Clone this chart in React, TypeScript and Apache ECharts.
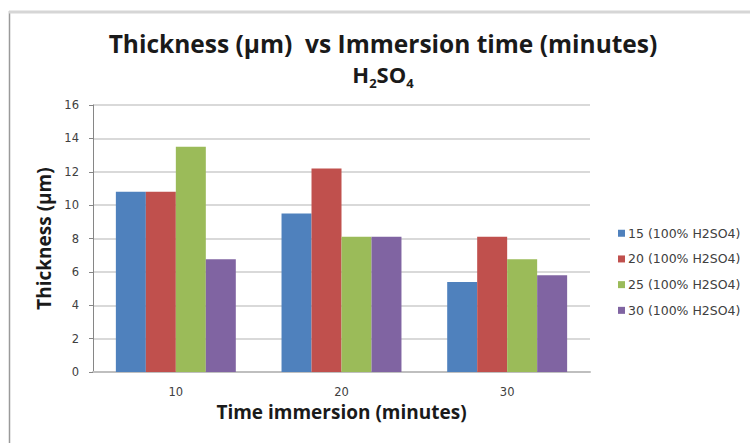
import React, { useEffect, useRef } from "react";
import * as echarts from "echarts";

const categories = ["10", "20", "30"];
const seriesNames = ["15 (100% H2SO4)", "20 (100% H2SO4)", "25 (100% H2SO4)", "30 (100% H2SO4)"];
const s15 = [10.8, 9.5, 5.4];
const s20 = [10.8, 12.2, 8.1];
const s25 = [13.5, 8.1, 6.75];
const s30 = [6.75, 8.1, 5.8];
const colors = ["#4F81BD", "#C0504D", "#9BBB59", "#8064A2"];
const yTicks = { min: 0, max: 16, interval: 2 };

export default function App() {
  const ref = useRef<HTMLDivElement>(null);
  useEffect(() => {
    if (!ref.current) return;
    const chart = echarts.init(ref.current, undefined, { renderer: "svg" });
    const values = [s15, s20, s25, s30];
    chart.setOption({
      animation: false,
      backgroundColor: "#ffffff",
      grid: { left: 93, right: 160, top: 105, bottom: 71, containLabel: false },
      legend: {
        orient: "vertical",
        left: 613,
        top: 221,
        icon: "rect",
        itemWidth: 7,
        itemHeight: 7,
        itemGap: 11.2,
        textStyle: { fontFamily: "DejaVu Sans", fontSize: 12.5, color: "#404040", lineHeight: 14.5, padding: [0, 0, 0, -2] },
        data: seriesNames,
      },
      xAxis: {
        type: "category",
        data: categories,
        name: "Time immersion (minutes)",
        nameLocation: "middle",
        nameGap: 29,
        nameTextStyle: { fontFamily: "Open Sans", fontWeight: "bold", fontSize: 19, color: "#1a1a1a" },
        axisLine: { lineStyle: { color: "#bfbfbf", width: 2 } },
        axisTick: { show: false },
        axisLabel: { fontFamily: "DejaVu Sans", fontSize: 11.5, color: "#404040", margin: 14 },
      },
      yAxis: {
        type: "value",
        min: yTicks.min,
        max: yTicks.max,
        interval: yTicks.interval,
        name: "Thickness (µm)",
        nameLocation: "middle",
        nameGap: 35,
        nameTextStyle: { fontFamily: "Open Sans", fontWeight: "bold", fontSize: 19, color: "#1a1a1a" },
        axisLine: { show: true, lineStyle: { color: "#868686", width: 1 } },
        axisTick: { show: true, length: 4, lineStyle: { color: "#868686" } },
        axisLabel: { fontFamily: "DejaVu Sans", fontSize: 11.5, color: "#404040", margin: 14 },
        splitLine: { lineStyle: { color: "#d9d9d9", width: 2 } },
      },
      series: values.map((v, i) => ({
        name: seriesNames[i],
        type: "bar",
        data: v,
        barGap: "0%",
        barCategoryGap: "27.6%",
        itemStyle: { color: colors[i] },
      })),
      graphic: [
        { type: "line", shape: { x1: 9.5, y1: 11, x2: 9.5, y2: 443 }, style: { stroke: "#9a9a9a", lineWidth: 1.5 } },
        { type: "line", shape: { x1: 9, y1: 12, x2: 750, y2: 12 }, style: { stroke: "#d6d6d6", lineWidth: 3 } },
        {
          type: "text",
          x: 383,
          y: 43,
          style: {
            text: "Thickness (µm)  vs Immersion time (minutes)",
            fontFamily: "Open Sans",
            fontWeight: "bold",
            fontSize: 24.5,
            fill: "#1a1a1a",
            align: "center",
            verticalAlign: "middle",
          },
        },
        {
          type: "text",
          x: 383,
          y: 74,
          style: {
            text: "{m|H}{s|2}{m|SO}{s|4}",
            align: "center",
            verticalAlign: "middle",
            rich: {
              m: { fontFamily: "Open Sans", fontWeight: "bold", fontSize: 22, fill: "#1a1a1a", lineHeight: 30, verticalAlign: "middle" },
              s: { fontFamily: "Open Sans", fontWeight: "bold", fontSize: 13, fill: "#1a1a1a", lineHeight: 30, verticalAlign: "bottom" },
            },
          },
        },
      ],
    });
    return () => chart.dispose();
  }, []);
  return <div ref={ref} style={{ position: "fixed", left: 0, top: 0, width: 750, height: 443 }} />;
}
